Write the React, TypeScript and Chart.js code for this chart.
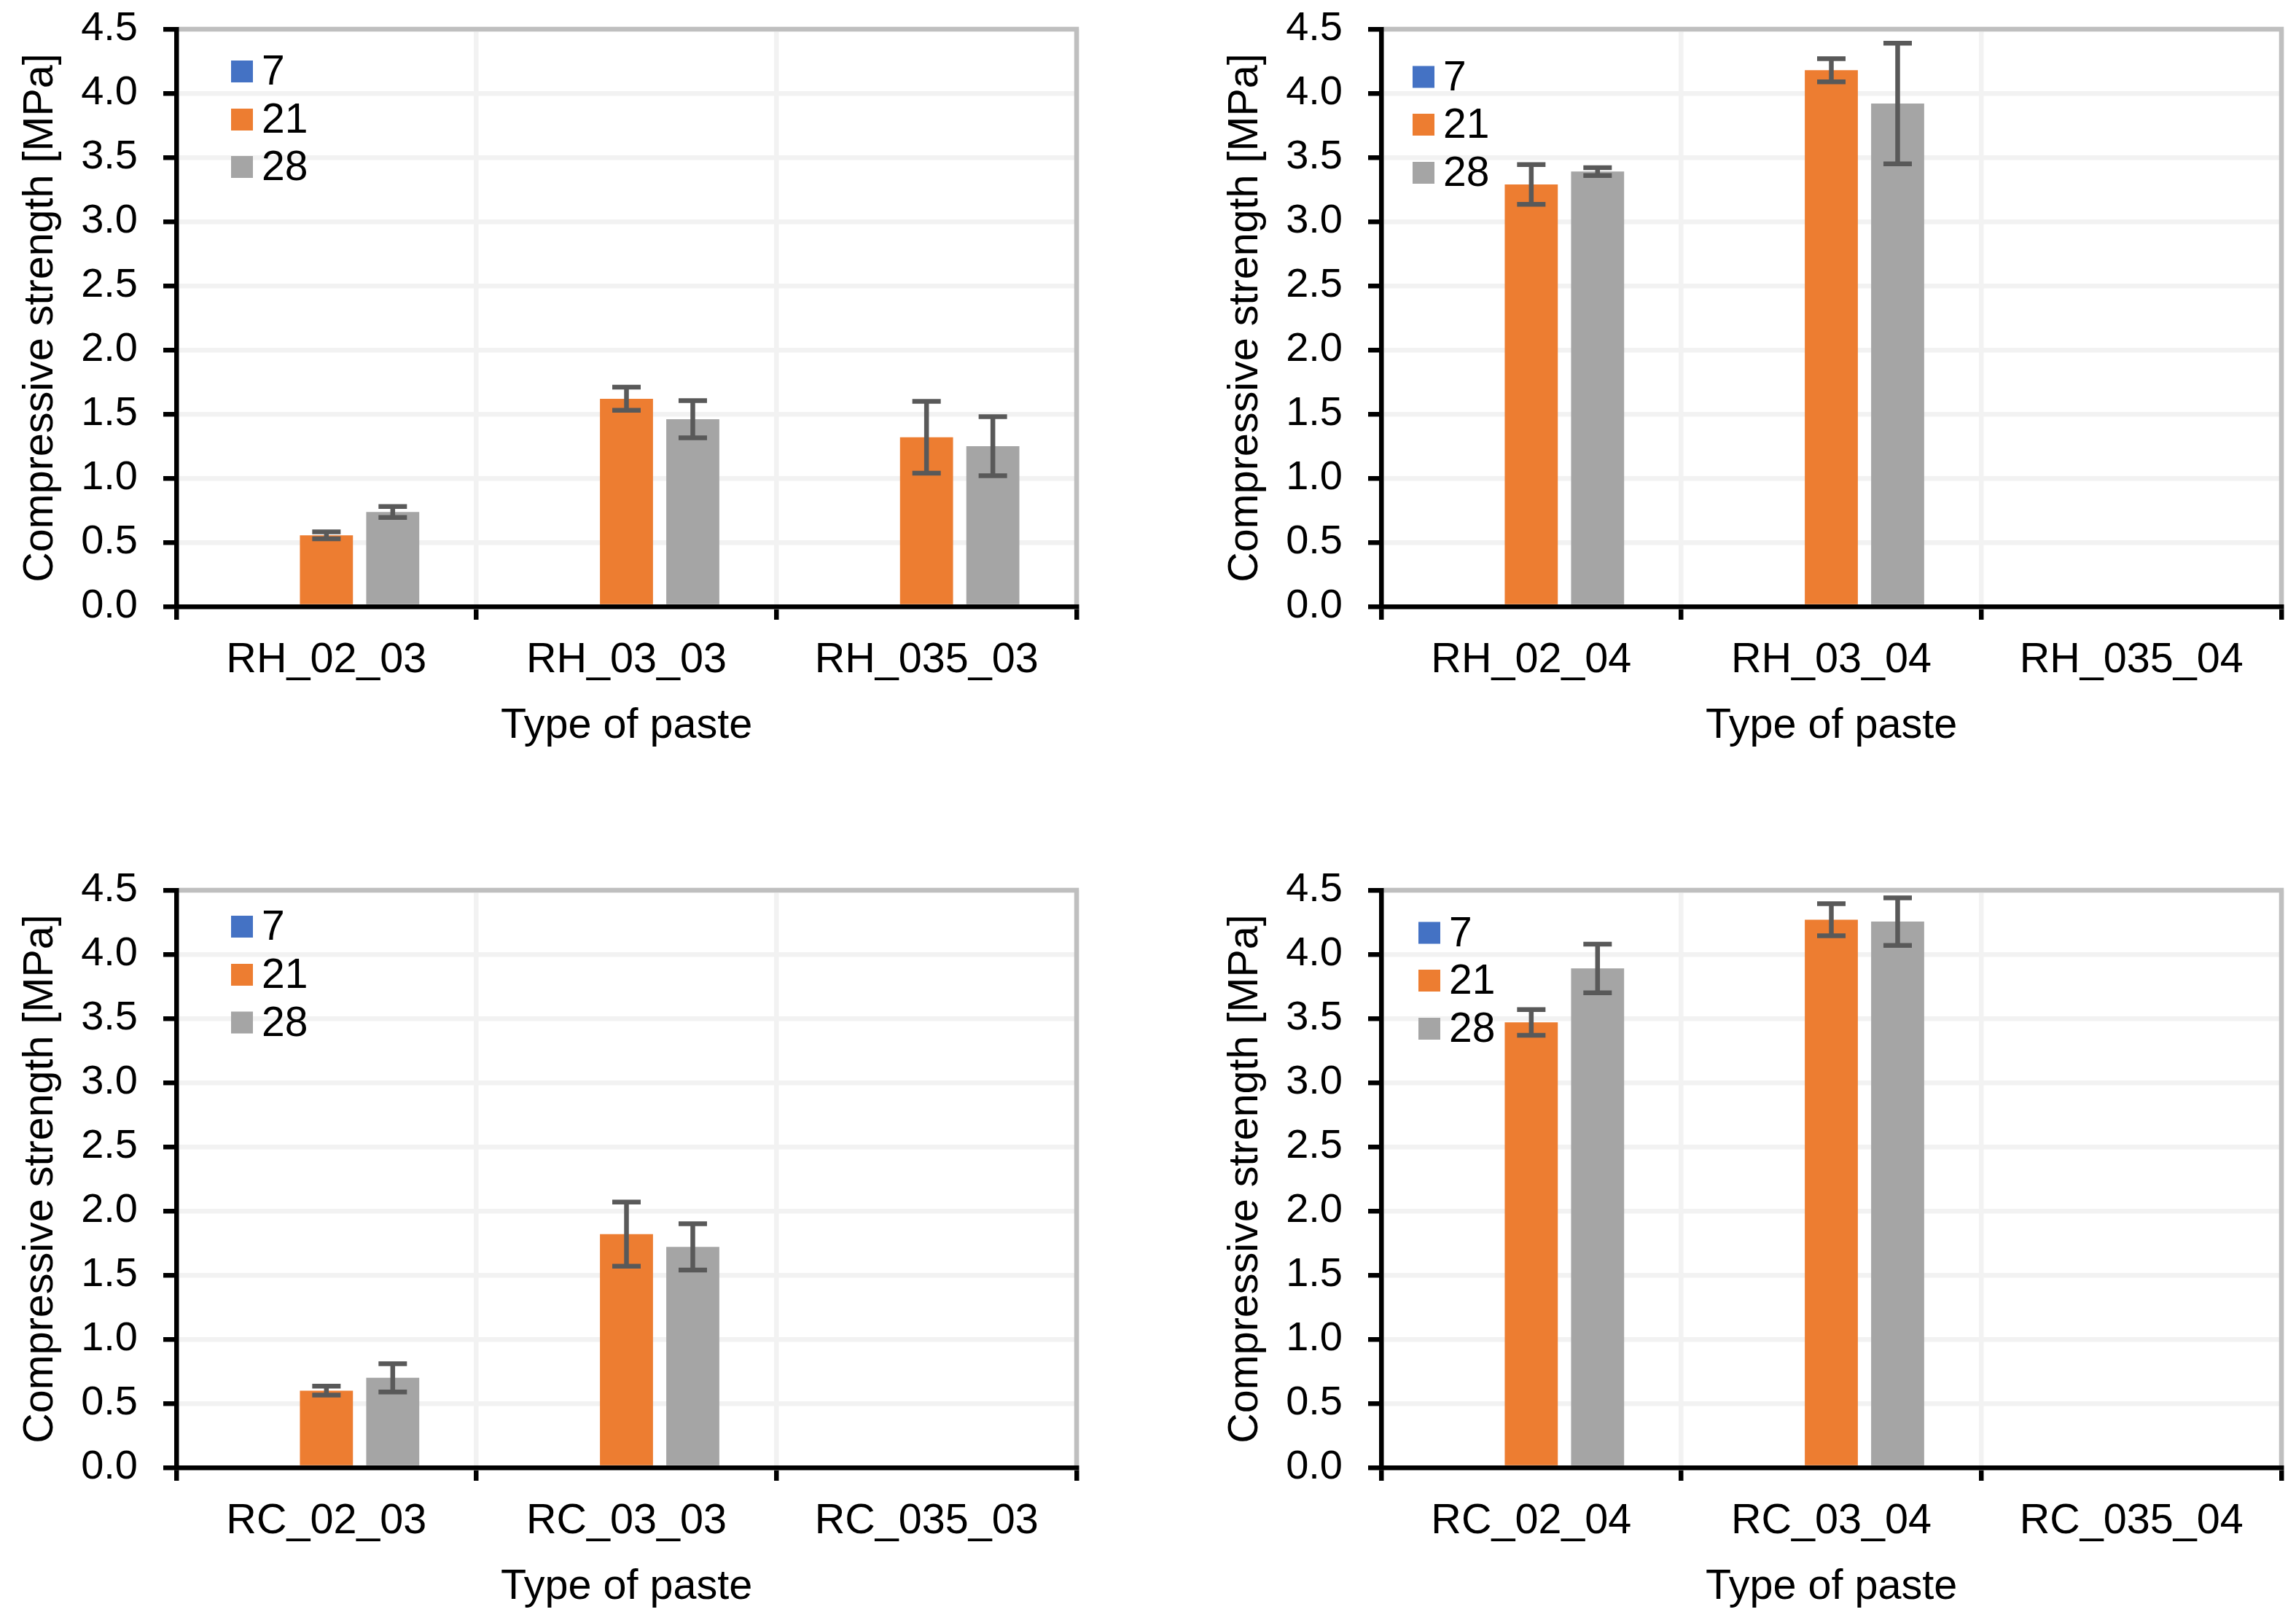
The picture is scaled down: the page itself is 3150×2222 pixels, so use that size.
import React, { useEffect, useRef } from 'react';
import { Chart, registerables } from 'chart.js';

Chart.register(...registerables);

// ---------- data ----------
const seriesLabels = ['7', '21', '28'];
const seriesColors = ['#4472c4', '#ed7d31', '#a5a5a5'];

const catsRH03 = ['RH_02_03', 'RH_03_03', 'RH_035_03'];
const rh03Day7 = [null, null, null];
const rh03Day21 = [0.555, 1.62, 1.32];
const rh03Day21Err = [0.027, 0.09, 0.28];
const rh03Day28 = [0.737, 1.46, 1.25];
const rh03Day28Err = [0.043, 0.145, 0.23];

const catsRH04 = ['RH_02_04', 'RH_03_04', 'RH_035_04'];
const rh04Day7 = [null, null, null];
const rh04Day21 = [3.29, 4.18, null];
const rh04Day21Err = [0.155, 0.09, null];
const rh04Day28 = [3.39, 3.92, null];
const rh04Day28Err = [0.03, 0.47, null];

const catsRC03 = ['RC_02_03', 'RC_03_03', 'RC_035_03'];
const rc03Day7 = [null, null, null];
const rc03Day21 = [0.60, 1.82, null];
const rc03Day21Err = [0.035, 0.25, null];
const rc03Day28 = [0.70, 1.72, null];
const rc03Day28Err = [0.11, 0.18, null];

const catsRC04 = ['RC_02_04', 'RC_03_04', 'RC_035_04'];
const rc04Day7 = [null, null, null];
const rc04Day21 = [3.47, 4.27, null];
const rc04Day21Err = [0.10, 0.125, null];
const rc04Day28 = [3.89, 4.255, null];
const rc04Day28Err = [0.19, 0.185, null];

const yMin = 0;
const yMax = 4.5;
const yStep = 0.5;

const xTitle = 'Type of paste';
const yTitle = 'Compressive strength [MPa]';

// ---------- styling / layout ----------
const FONT = "'Liberation Sans', Arial, Helvetica, sans-serif";
const CW = 1490;
const CH = 1035;
const LW = 6.5;
const PLOT_TOP = 40;
const PLOT_LEFT = 242;
const PLOT_RIGHT = 1477;
const PLOT_BOTTOM = 832;

const errorBarPlugin = {
  id: 'errorBars',
  afterDatasetsDraw(chart: any) {
    const ctx = chart.ctx;
    const y = chart.scales.y;
    ctx.save();
    ctx.strokeStyle = '#595959';
    ctx.lineWidth = LW;
    ctx.lineCap = 'butt';
    chart.data.datasets.forEach((ds: any, i: number) => {
      if (!ds.errors) return;
      const meta = chart.getDatasetMeta(i);
      meta.data.forEach((el: any, j: number) => {
        const v = ds.data[j];
        const e = ds.errors[j];
        if (v == null || e == null) return;
        const x = el.x;
        const yt = y.getPixelForValue(v + e);
        const yb = y.getPixelForValue(v - e);
        const hw = 19.5;
        ctx.beginPath();
        ctx.moveTo(x, yt);
        ctx.lineTo(x, yb);
        ctx.moveTo(x - hw, yt);
        ctx.lineTo(x + hw, yt);
        ctx.moveTo(x - hw, yb);
        ctx.lineTo(x + hw, yb);
        ctx.stroke();
      });
    });
    ctx.restore();
  },
};

const framePlugin = {
  id: 'frame',
  beforeDatasetsDraw(chart: any) {
    const { ctx, chartArea } = chart;
    ctx.save();
    ctx.strokeStyle = '#bfbfbf';
    ctx.lineWidth = LW;
    ctx.lineCap = 'butt';
    ctx.lineJoin = 'miter';
    ctx.beginPath();
    ctx.moveTo(chartArea.left + 3, chartArea.top);
    ctx.lineTo(chartArea.right, chartArea.top);
    ctx.lineTo(chartArea.right, chartArea.bottom - 3);
    ctx.stroke();
    ctx.restore();
  },
};

const insideLegendPlugin = {
  id: 'insideLegend',
  afterDraw(chart: any, _args: any, opts: any) {
    const { ctx, chartArea } = chart;
    ctx.save();
    ctx.font = `57px ${FONT}`;
    ctx.textBaseline = 'alphabetic';
    ctx.textAlign = 'left';
    chart.data.datasets.forEach((ds: any, i: number) => {
      const cy = chartArea.top + opts.dy[i];
      const sx = chartArea.left + opts.dx;
      ctx.fillStyle = ds.backgroundColor;
      ctx.fillRect(sx, cy - 15, 30, 30);
      ctx.fillStyle = '#000';
      ctx.fillText(ds.label, sx + 42, cy + 18);
    });
    ctx.restore();
  },
};

type PanelProps = {
  labels: string[];
  d7: (number | null)[];
  d21: (number | null)[];
  e21: (number | null)[];
  d28: (number | null)[];
  e28: (number | null)[];
  legend: { dx: number; dy: number[] };
  left: number;
  top: number;
};

function Panel(props: PanelProps) {
  const ref = useRef<HTMLCanvasElement>(null);
  useEffect(() => {
    const tickFontY = { family: FONT, size: 56 };
    const font = { family: FONT, size: 57.5 };
    const chart = new Chart(ref.current as HTMLCanvasElement, {
      type: 'bar',
      data: {
        labels: props.labels,
        datasets: [
          { label: seriesLabels[0], data: props.d7, backgroundColor: seriesColors[0], errors: null } as any,
          { label: seriesLabels[1], data: props.d21, backgroundColor: seriesColors[1], errors: props.e21 } as any,
          { label: seriesLabels[2], data: props.d28, backgroundColor: seriesColors[2], errors: props.e28 } as any,
        ],
      },
      options: {
        animation: false,
        responsive: false,
        devicePixelRatio: 1,
        layout: { padding: { top: PLOT_TOP, right: CW - PLOT_RIGHT, left: 0, bottom: 0 } },
        datasets: { bar: { barPercentage: 0.8, categoryPercentage: 0.663 } },
        plugins: {
          legend: { display: false },
          tooltip: { enabled: false },
          insideLegend: props.legend,
        } as any,
        scales: {
          x: {
            grid: {
              color: '#f2f2f2',
              lineWidth: LW,
              offset: true,
              drawTicks: true,
              tickLength: 18,
              tickColor: '#000',
              tickWidth: LW,
            },
            border: { color: '#000', width: LW, z: 1 },
            ticks: { font, color: '#000', padding: 22, maxRotation: 0, autoSkip: false },
            title: { display: true, text: xTitle, font, color: '#000', padding: { top: 0, bottom: 4 } },
            afterFit: (s: any) => {
              s.height = CH - PLOT_BOTTOM;
              s.paddingLeft = 0;
              s.paddingRight = 0;
              s.paddingTop = 0;
              s.paddingBottom = 0;
            },
          },
          y: {
            min: yMin,
            max: yMax,
            ticks: {
              stepSize: yStep,
              callback: (v: any) => Number(v).toFixed(1),
              font: tickFontY,
              color: '#000',
              padding: 35,
            },
            grid: {
              color: '#f2f2f2',
              lineWidth: LW,
              drawTicks: true,
              tickLength: 18,
              tickColor: '#000',
              tickWidth: LW,
            },
            border: { color: '#000', width: LW, z: 1 },
            title: { display: true, text: yTitle, font, color: '#000', padding: { top: 22, bottom: 0 } },
            afterFit: (s: any) => {
              s.width = PLOT_LEFT;
              s.paddingLeft = 0;
              s.paddingRight = 0;
              s.paddingTop = 0;
              s.paddingBottom = 0;
            },
          },
        },
      } as any,
      plugins: [framePlugin, errorBarPlugin, insideLegendPlugin],
    });
    return () => chart.destroy();
  }, []);
  return (
    <canvas
      ref={ref}
      width={CW}
      height={CH}
      style={{ position: 'absolute', left: props.left, top: props.top, width: CW, height: CH }}
    />
  );
}

export default function App() {
  return (
    <div style={{ position: 'absolute', left: 0, top: 0, width: 3150, height: 2222, background: '#fff' }}>
      <Panel labels={catsRH03} d7={rh03Day7} d21={rh03Day21} e21={rh03Day21Err} d28={rh03Day28} e28={rh03Day28Err}
        legend={{ dx: 75, dy: [58, 124, 189] }} left={0} top={0} />
      <Panel labels={catsRH04} d7={rh04Day7} d21={rh04Day21} e21={rh04Day21Err} d28={rh04Day28} e28={rh04Day28Err}
        legend={{ dx: 43, dy: [65.5, 131, 197] }} left={1653} top={0} />
      <Panel labels={catsRC03} d7={rc03Day7} d21={rc03Day21} e21={rc03Day21Err} d28={rc03Day28} e28={rc03Day28Err}
        legend={{ dx: 75, dy: [50, 116, 181.5] }} left={0} top={1181} />
      <Panel labels={catsRC04} d7={rc04Day7} d21={rc04Day21} e21={rc04Day21Err} d28={rc04Day28} e28={rc04Day28Err}
        legend={{ dx: 51, dy: [58.5, 124, 190] }} left={1653} top={1181} />
    </div>
  );
}
